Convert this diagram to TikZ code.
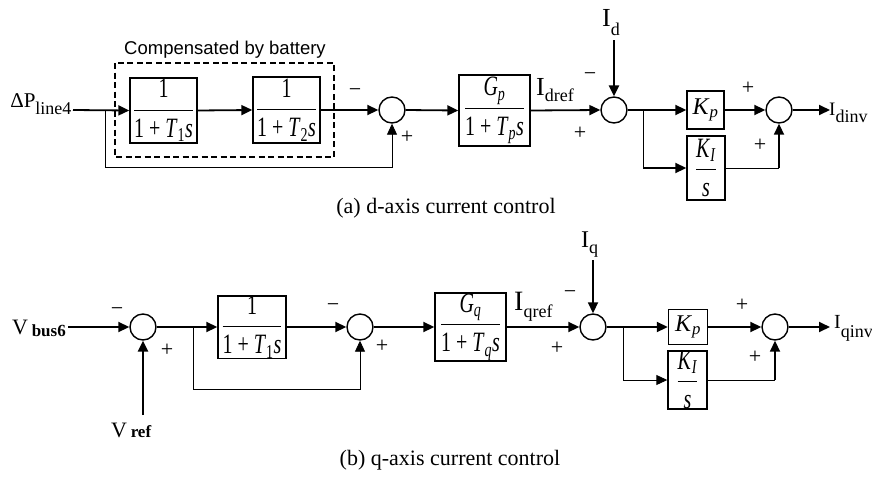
\documentclass[tikz,border=0pt]{standalone}
\usepackage{fontspec}
\usepackage{graphicx}
\setmainfont{Liberation Serif}
\newfontfamily\labelsans{Liberation Sans}
\usetikzlibrary{arrows.meta, calc}
\tikzstyle{block} = [draw, line width=1.4pt, inner sep=0pt, font=\fontsize{20}{22}\selectfont]
\tikzstyle{sum} = [draw, circle, line width=1.4pt, minimum size=26pt, inner sep=0pt]
\tikzstyle{wire} = [line width=0.9pt]
\tikzstyle{arrow} = [line width=1.8pt, -{Triangle[length=11pt,width=10pt]}]
\tikzstyle{thinarrow} = [line width=0.9pt, -{Triangle[length=11pt,width=10pt]}]
\tikzstyle{heavyarrow} = [line width=2.6pt, -{Triangle[length=11pt,width=10pt]}]
\tikzstyle{compbox} = [draw, line width=2.4pt, dash pattern=on 6pt off 3.5pt]
\tikzstyle{sign} = [inner sep=0pt, font=\fontsize{22}{22}\selectfont]
\newcommand{\blockfrac}[2]{\scalebox{1}[1.4]{$\displaystyle\frac{\mbox{#1}}{\mbox{#2}}$}}
\newcommand{\sig}[3]{{\fontsize{#1}{#1}\selectfont I}\raisebox{#3}{\fontsize{18}{18}\selectfont #2}}

\begin{document}
\begin{tikzpicture}[x=1pt, y=-1pt]
        \useasboundingbox (0,0) rectangle (872,477);

        % (a) d-axis current control
        % Input
        \coordinate (din) at (73,110);
        \node at (75,107) [anchor=base east] (dpl) {\fontsize{21}{21}\selectfont ΔP\raisebox{-7pt}{\fontsize{18}{18}\selectfont line4}};

        % Blocks compensated by battery
        \node at (163.5,110.5) [block, minimum width=67pt, minimum height=65pt] (t1) {\blockfrac{1}{1 + \textit{T}\textsubscript{1}\textit{s}}};
        \node at (286.5,110) [block, minimum width=67pt, minimum height=66pt] (t2) {\blockfrac{1}{1 + \textit{T}\textsubscript{2}\textit{s}}};
        \draw [compbox] (115,63) rectangle (334,157);
        \node at (225,50) [font=\labelsans\fontsize{18.5}{20}\selectfont] (comp) {Compensated by battery};

        % Summing points and gains
        \node at (392,110) [sum] (s1) {};
        \node at (494.5,110.5) [block, minimum width=71pt, minimum height=71pt] (gp) {\blockfrac{\textit{G}\textsubscript{\textit{p}}}{1 + \textit{T}\textsubscript{\textit{p}}\textit{s}}};
        \node at (614,110) [sum] (s2) {};
        \node at (705.5,110) [block, minimum width=37pt, minimum height=38pt, font=\fontsize{24}{24}\selectfont] (kp) {\textit{K}\textsubscript{\textit{p}}};
        \node at (706,168) [block, minimum width=38pt, minimum height=64pt] (ki) {\blockfrac{\textit{K}\textsubscript{\textit{I}}}{\textit{s}}};
        \node at (779,110) [sum] (s3) {};
        \coordinate (idtop) at (614,40);
        \coordinate (dout) at (830,110);

        % Connections
        \draw [arrow] (din) -- (t1.west);
        \draw [arrow] (t1.east) -- (t2.west);
        \draw [arrow] (t2.east) -- (s1.west);
        \coordinate (fb1) at (105,110);
        \draw [thinarrow] (fb1) -- ++(0,57) -| (s1.south);
        \draw [arrow] (s1.east) -- (gp.west);
        \draw [arrow] (gp.east) -- (s2.west);
        \draw [heavyarrow] (idtop) -- (s2.north);
        \draw [arrow] (s2.east) -- (kp.west);
        \coordinate (br1) at (643,110);
        \draw [wire] (br1) -- (br1 |- ki.west);
        \draw [arrow] (br1 |- ki.west) -- (ki.west);
        \draw [arrow] (kp.east) -- (s3.west);
        \draw [wire] (ki.east) -- (s3 |- ki.east);
        \draw [arrow] (s3 |- ki.east) -- (s3.south);
        \draw [arrow] (s3.east) -- (dout);

        % Labels and signs
        \node at (536,95) [anchor=base west, inner sep=0pt] (idref) {\sig{26}{dref}{-6pt}};
        \node at (602,26) [anchor=base west, inner sep=0pt] (id) {\sig{26}{d}{-9pt}};
        \node at (829,115) [anchor=base west, inner sep=0pt] (idinv) {\sig{19}{dinv}{-7pt}};
        \node at (355,93) [sign] (m1) {−};
        \node at (407,137) [sign] (p1) {+};
        \node at (590,77) [sign] (m2) {−};
        \node at (580,133) [sign] (p2) {+};
        \node at (748,88) [sign] (p3) {+};
        \node at (760,145) [sign] (p4) {+};
        \node at (446,208) [font=\fontsize{22}{24}\selectfont] (capa) {(a) d-axis current control};

        % (b) q-axis current control
        % Input
        \coordinate (vin) at (68,327);
        \node at (66,334) [anchor=base east, inner sep=0pt] (vbl) {\fontsize{22}{22}\selectfont V\,\raisebox{-2pt}{\fontsize{17}{17}\selectfont\textbf{bus6}}};
        \coordinate (vref) at (143,415);
        \node at (111,437) [anchor=base west, inner sep=0pt] (vrl) {\fontsize{22}{22}\selectfont V\,{\fontsize{17}{17}\selectfont\textbf{ref}}};

        % Summing points and gains
        \node at (143,327) [sum] (s4) {};
        \node at (252,327) [block, minimum width=68pt, minimum height=62pt] (b1) {\blockfrac{1}{1 + \textit{T}\textsubscript{1}\textit{s}}};
        \node at (360,327) [sum] (s5) {};
        \node at (470.5,327) [block, minimum width=71pt, minimum height=68pt] (gq) {\blockfrac{\textit{G}\textsubscript{\textit{q}}}{1 + \textit{T}\textsubscript{\textit{q}}\textit{s}}};
        \node at (593,327) [sum] (s6) {};
        \node at (688,327) [block, minimum width=39pt, minimum height=35pt, font=\fontsize{24}{24}\selectfont] (kp2) {\textit{K}\textsubscript{\textit{p}}};
        \node at (687.5,380) [block, minimum width=39pt, minimum height=58pt] (ki2) {\blockfrac{\textit{K}\textsubscript{\textit{I}}}{\textit{s}}};
        \node at (775,327) [sum] (s7) {};
        \coordinate (iqtop) at (593,260);
        \coordinate (qout) at (830,327);

        % Connections
        \draw [arrow] (vin) -- (s4.west);
        \draw [heavyarrow] (vref) -- (s4.south);
        \draw [arrow] (s4.east) -- (b1.west);
        \coordinate (br2) at (193,327);
        \draw [thinarrow] (br2) -- ++(0,62) -| (s5.south);
        \draw [arrow] (b1.east) -- (s5.west);
        \draw [arrow] (s5.east) -- (gq.west);
        \draw [arrow] (gq.east) -- (s6.west);
        \draw [arrow] (iqtop) -- (s6.north);
        \draw [arrow] (s6.east) -- (kp2.west);
        \coordinate (br3) at (623,327);
        \draw [wire] (br3) -- (br3 |- ki2.west);
        \draw [thinarrow] (br3 |- ki2.west) -- (ki2.west);
        \draw [arrow] (kp2.east) -- (s7.west);
        \draw [wire] (ki2.east) -- (s7 |- ki2.east);
        \draw [arrow] (s7 |- ki2.east) -- (s7.south);
        \draw [arrow] (s7.east) -- (qout);

        % Labels and signs
        \node at (514,310) [anchor=base west, inner sep=0pt] (iqref) {\sig{28}{qref}{-7pt}};
        \node at (581,247) [anchor=base west, inner sep=0pt] (iq) {\sig{24}{q}{-6pt}};
        \node at (834,328) [anchor=base west, inner sep=0pt] (iqinv) {\sig{20}{qinv}{-9pt}};
        \node at (117,312) [sign] (m3) {−};
        \node at (167,350) [sign] (p5) {+};
        \node at (333,308) [sign] (m4) {−};
        \node at (382,346) [sign] (p6) {+};
        \node at (570,295) [sign] (m5) {−};
        \node at (557,348) [sign] (p7) {+};
        \node at (742,305) [sign] (p8) {+};
        \node at (755,357) [sign] (p9) {+};
        \node at (450,460) [font=\fontsize{22}{24}\selectfont] (capb) {(b) q-axis current control};

\end{tikzpicture}
\end{document}
